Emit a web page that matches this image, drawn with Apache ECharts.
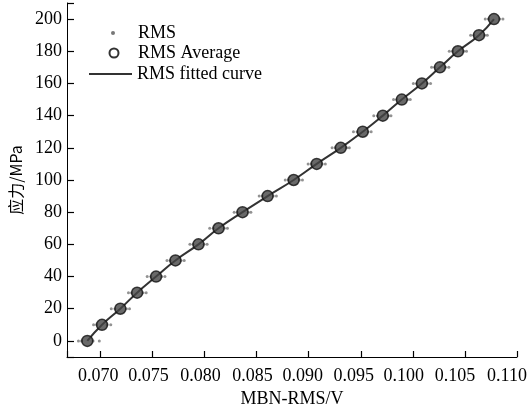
<!DOCTYPE html>
<html>
<head>
<meta charset="utf-8">
<script src="https://cdn.jsdelivr.net/npm/echarts@6/dist/echarts.min.js"></script>
<style>html,body{margin:0;padding:0;background:#fff;}#c{width:528px;height:408px;}</style>
</head>
<body>
<div id="c"></div>
<script>
// Stress levels (MPa)
var stressLevels = [0,10,20,30,40,50,60,70,80,90,100,110,120,130,140,150,160,170,180,190,200];
// RMS average (V) per stress level
var rmsAverage = [0.06875,0.07016,0.07192,0.07353,0.07535,0.07721,0.07942,0.08135,0.08365,0.08606,0.08856,0.09077,0.09308,0.09519,0.09712,0.09894,0.10087,0.10260,0.10433,0.10635,0.10779];
// Individual RMS readings (V) per stress level
var rmsSamples = [
  [0.06790,0.06820,0.06930,0.06990],
  [0.06935,0.06965,0.07065,0.07100],
  [0.07105,0.07140,0.07250,0.07280],
  [0.07270,0.07300,0.07410,0.07440],
  [0.07450,0.07485,0.07590,0.07620],
  [0.07640,0.07670,0.07775,0.07805],
  [0.07860,0.07890,0.07995,0.08025],
  [0.08050,0.08085,0.08190,0.08220],
  [0.08285,0.08315,0.08420,0.08445],
  [0.08525,0.08555,0.08660,0.08690],
  [0.08775,0.08805,0.08910,0.08940],
  [0.08995,0.09025,0.09130,0.09160],
  [0.09225,0.09255,0.09365,0.09390],
  [0.09430,0.09465,0.09570,0.09600],
  [0.09625,0.09660,0.09765,0.09790],
  [0.09815,0.09845,0.09950,0.09975],
  [0.10005,0.10035,0.10140,0.10170],
  [0.10180,0.10210,0.10315,0.10345],
  [0.10350,0.10380,0.10490,0.10515],
  [0.10555,0.10585,0.10690,0.10715],
  [0.10695,0.10725,0.10835,0.10865]
];
var xTicks = [0.070,0.075,0.080,0.085,0.090,0.095,0.100,0.105,0.110];
var yTicks = [0,20,40,60,80,100,120,140,160,180,200];

var avgData = stressLevels.map(function(s,i){return [rmsAverage[i], s];});
var rmsData = [];
stressLevels.forEach(function(s,i){ rmsSamples[i].forEach(function(v){ rmsData.push([v,s]); }); });

var serif = '"Liberation Serif","Times New Roman",serif';
var FS = 18;
// leftward offsets (px) of x tick labels relative to their ticks, as in the original figure
var xLabelShift = [2,4,4,4,6,7,9,10,10];
var xRich = {};
xLabelShift.forEach(function(s,i){ xRich['s'+i] = {fontFamily:serif,fontSize:FS,color:'#000',padding:[0,2*s,0,0]}; });

var chart = echarts.init(document.getElementById('c'), null, {renderer:'canvas'});
function idx(v, list){ for (var i=0;i<list.length;i++){ if (Math.abs(v-list[i])<1e-7) return i; } return -1; }
chart.setOption({
  animation:false,
  backgroundColor:'#fff',
  grid:{left:67,right:11,top:3,bottom:51,containLabel:false,outerBoundsMode:'none'},
  legend:[
    {data:['RMS'],left:111,top:24,padding:0,orient:'vertical',icon:'circle',itemWidth:40,itemHeight:4,itemGap:0,
     textStyle:{fontFamily:serif,fontSize:FS,color:'#000'},selectedMode:false,
     itemStyle:{color:'#555',borderWidth:0}},
    {data:['RMS Average'],left:108.5,top:44,padding:0,orient:'vertical',icon:'circle',itemWidth:38,itemHeight:9,itemGap:0,
     textStyle:{fontFamily:serif,fontSize:FS,color:'#000'},selectedMode:false,
     itemStyle:{color:'#fff',borderColor:'#000',borderWidth:2}},
    {data:['RMS fitted curve'],left:89,top:65,padding:0,orient:'vertical',icon:'rect',itemWidth:43,itemHeight:2,itemGap:0,
     textStyle:{fontFamily:serif,fontSize:FS,color:'#000'},selectedMode:false,
     itemStyle:{color:'#333',borderWidth:0}}
  ],
  xAxis:{
    type:'value',min:0.0668,max:0.110,splitNumber:9,
    name:'MBN-RMS/V',nameLocation:'middle',nameGap:30,
    nameTextStyle:{fontFamily:serif,fontSize:FS,color:'#000'},
    axisLine:{show:true,onZero:false,lineStyle:{color:'#000',width:1}},
    axisTick:{show:true,inside:true,length:6,lineStyle:{color:'#000',width:1.2}},
    axisLabel:{fontFamily:serif,fontSize:FS,color:'#000',margin:10,rich:xRich,
      formatter:function(v){
        var i = idx(v,xTicks);
        if (i<0) return '';
        return '{s'+i+'|'+xTicks[i].toFixed(3)+'}';
      }},
    splitLine:{show:false}
  },
  yAxis:{
    type:'value',min:-10,max:210,splitNumber:11,
    name:'应力/MPa',nameLocation:'middle',nameGap:40,
    nameTextStyle:{fontFamily:'"Noto Sans CJK SC",'+serif,fontSize:16,color:'#000'},
    axisLine:{show:true,onZero:false,lineStyle:{color:'#000',width:1}},
    axisTick:{show:true,inside:true,length:7,lineStyle:{color:'#000',width:1.2}},
    axisLabel:{fontFamily:serif,fontSize:FS,color:'#000',margin:5,
      formatter:function(v){ return idx(v,yTicks)>=0 ? String(v) : ''; }},
    splitLine:{show:false}
  },
  series:[
    {name:'RMS fitted curve',type:'line',data:avgData,smooth:true,showSymbol:false,symbol:'none',
     lineStyle:{color:'#333',width:2},itemStyle:{color:'#333'},z:1},
    {name:'RMS',type:'scatter',data:rmsData,symbol:'circle',symbolSize:3,
     itemStyle:{color:'#777'},z:2},
    {name:'RMS Average',type:'scatter',data:avgData,symbol:'circle',symbolSize:11,
     itemStyle:{color:'#444',borderColor:'#111',borderWidth:1.5},z:3}
  ]
});
</script>
</body>
</html>
